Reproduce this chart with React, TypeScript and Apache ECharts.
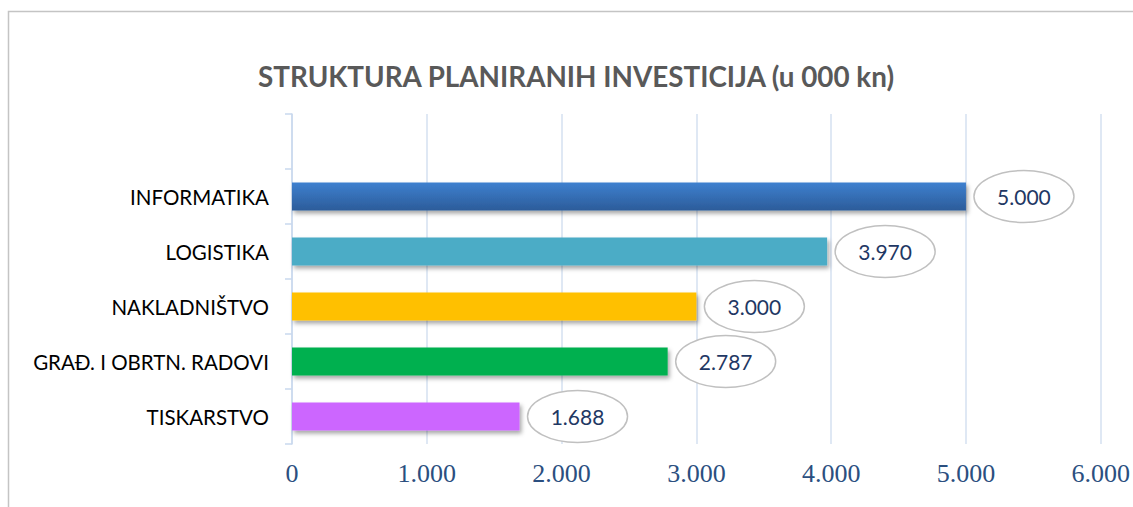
import React, { useEffect, useRef } from "react";
import * as echarts from "echarts";

const categories = ["TISKARSTVO", "GRAĐ. I OBRTN. RADOVI", "NAKLADNIŠTVO", "LOGISTIKA", "INFORMATIKA", ""];
const values = [1688, 2787, 3000, 3970, 5000];
const barColors = ["#CC66FF", "#00B050", "#FFC000", "#4BACC6", "gradient"];
const xTicks = { min: 0, max: 6000, interval: 1000 };
const titleText = "STRUKTURA PLANIRANIH INVESTICIJA (u 000 kn)";

function fmt(v: number): string {
  return String(Math.round(v)).replace(/\B(?=(\d{3})+(?!\d))/g, ".");
}

export default function App() {
  const ref = useRef<HTMLDivElement>(null);
  useEffect(() => {
    document.body.style.margin = "0";
    const chart = echarts.init(ref.current!, null, { renderer: "svg" });
    const blueGrad = new echarts.graphic.LinearGradient(0, 0, 0, 1, [
      { offset: 0, color: "#3E80CF" },
      { offset: 1, color: "#2C5C9A" },
    ]);
    chart.setOption({
      animation: false,
      backgroundColor: "#fff",
      title: {
        text: titleText,
        left: 253,
        top: 57,
        textStyle: { fontFamily: "Lato", fontWeight: "bold", fontSize: 27.8, color: "#595959" },
      },
      graphic: [
        {
          type: "rect",
          shape: { x: 8.5, y: 11.5, width: 1300, height: 700 },
          style: { fill: "none", stroke: "#C4C4C4", lineWidth: 1.5 },
          z: 0,
          silent: true,
        },
      ],
      grid: { left: 292, right: 32, top: 114, bottom: 63 },
      xAxis: {
        type: "value",
        min: xTicks.min,
        max: xTicks.max,
        interval: xTicks.interval,
        axisLine: { show: false },
        axisTick: { show: false },
        splitLine: { show: true, lineStyle: { color: "#D5E1F1", width: 1.5 } },
        axisLabel: {
          formatter: (v: number) => fmt(v),
          fontFamily: "Liberation Serif",
          fontSize: 26,
          color: "#2B4F80",
          margin: 16,
        },
      },
      yAxis: {
        type: "category",
        data: categories,
        axisLine: { show: true, lineStyle: { color: "#C9D8EE", width: 1.5 } },
        axisTick: { show: true, length: 7, lineStyle: { color: "#C9D8EE", width: 1.5 } },
        splitLine: { show: false },
        axisLabel: {
          fontFamily: "Lato",
          fontSize: 20.5,
          color: "#000",
          margin: 23,
        },
      },
      series: [
        {
          type: "bar",
          barWidth: 28,
          data: values.map((v, i) => ({
            value: v,
            itemStyle: {
              color: barColors[i] === "gradient" ? blueGrad : barColors[i],
              shadowColor: "rgba(0,0,0,0.35)",
              shadowBlur: 4,
              shadowOffsetX: 2,
              shadowOffsetY: 3,
            },
          })),
        },
        {
          type: "custom",
          data: values.map((v, i) => [v, i]),
          encode: { x: 0, y: 1 },
          z: 5,
          renderItem: (params: any, api: any) => {
            const v = api.value(0);
            const p = api.coord([v, api.value(1)]);
            const rx = 50;
            const ry = 26;
            const cx = p[0] + 8 + rx;
            const cy = p[1];
            return {
              type: "group",
              children: [
                {
                  type: "ellipse",
                  shape: { cx, cy, rx, ry },
                  style: { fill: "#fff", stroke: "#C0C0C0", lineWidth: 1.5 },
                },
                {
                  type: "text",
                  x: cx,
                  y: cy,
                  style: {
                    text: fmt(v),
                    fontFamily: "Lato",
                    fontSize: 21,
                    fill: "#1F3864",
                    align: "center",
                    verticalAlign: "middle",
                  },
                },
              ],
            };
          },
        },
      ],
    });
    return () => chart.dispose();
  }, []);
  return <div ref={ref} style={{ position: "fixed", left: 0, top: 0, width: 1133, height: 507 }} />;
}
